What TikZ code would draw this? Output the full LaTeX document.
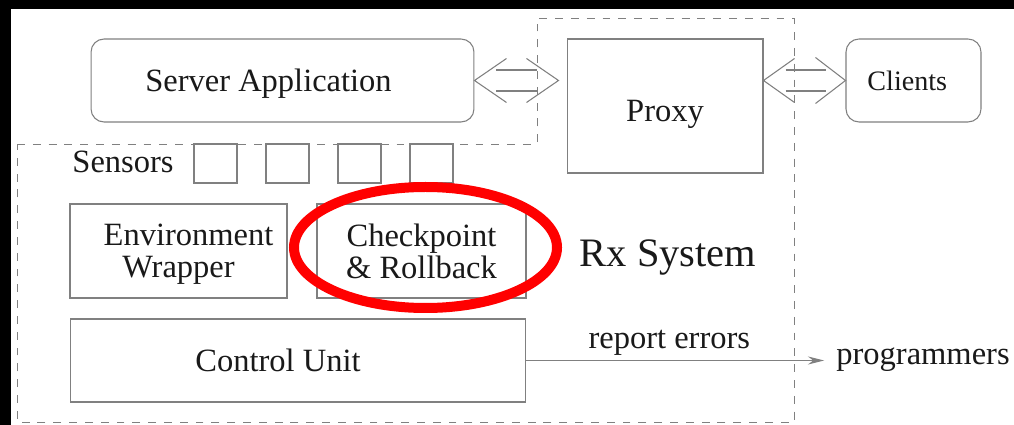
\documentclass[tikz,border=0pt]{standalone}
\usepackage{fontspec}
\setmainfont{Liberation Serif}
\usetikzlibrary{arrows.meta}

\begin{document}
\begin{tikzpicture}[x=0.02cm, y=-0.02cm,
    >={Stealth[length=0.32cm,width=0.16cm]},
    every node/.style={text=black!90, font=\fontsize{18.5}{18.2}\selectfont}]
% black frame on top and left
\fill[black] (0,0) rectangle (1014,425);
\fill[white] (11,9) rectangle (1014,425);
\useasboundingbox (0,0) rectangle (1014,425);

% outline of the Rx System
\draw[black!50, line width=0.5pt, dash pattern=on 4.5pt off 4.5pt]
    (17,144) -- (537,144) -- (537,18) -- (794,18) -- (794,422) -- (17,422) -- cycle;

\begin{scope}[every node/.append style={draw=black!50, line width=0.6pt, inner sep=0pt,
                                        text depth=0pt, align=center}]
    \node[rounded corners=0.26cm, minimum width=7.66cm, minimum height=1.66cm] (App) at (282.5,80.5) {Server Application\hspace*{0.56cm}};
    \node[minimum width=3.92cm, minimum height=2.68cm, text height=18.2pt] (Proxy) at (665,106) {Proxy};
    \node[rounded corners=0.26cm, minimum width=2.7cm, minimum height=1.66cm,
          font=\fontsize{16}{16}\selectfont] (Clients) at (913.5,80.5) {Clients\hspace*{0.25cm}};
    \node[minimum width=4.34cm, minimum height=1.88cm] (Env) at (178.5,251) {\hspace*{0.4cm}Environment\\Wrapper};
    \node[minimum width=4.18cm, minimum height=1.88cm] (CR) at (421.5,251) {Checkpoint\\\& Rollback};
    \node[minimum width=9.12cm, minimum height=1.66cm] (CU) at (298,360.5) {Control Unit\hspace*{0.8cm}};
    \foreach \i in {0,...,3}
        \node[minimum width=0.86cm, minimum height=0.78cm] (S\i) at (215.5+72*\i,163.5) {};
\end{scope}

\node[anchor=base] (Sensors) at (123,173) {Sensors};
\node[anchor=base, font=\fontsize{23}{23}\selectfont] (Rx) at (668,267) {Rx System};
\node[anchor=base west, inner sep=0.24cm] (Prog) at (824,365) {programmers};

% double arrows
\coordinate (a1) at (App.east);
\coordinate (a2) at ([xshift=-0.16cm]App.east -| Proxy.west);
\coordinate (b1) at (Proxy.east |- Clients.west);
\coordinate (b2) at (Clients.west);
\begin{scope}[black!50, line width=0.6pt]
    \draw ([shift={(32,-22)}]a1) -- (a1) -- ([shift={(32,22)}]a1);
    \draw ([shift={(-32,-22)}]a2) -- (a2) -- ([shift={(-32,22)}]a2);
    \draw ([shift={(22,-10.5)}]a1) -- ([shift={(-22,-10.5)}]a2);
    \draw ([shift={(22,10.5)}]a1) -- ([shift={(-22,10.5)}]a2);
    \draw ([shift={(31,-22)}]b1) -- (b1) -- ([shift={(31,22)}]b1);
    \draw ([shift={(-30,-23)}]b2) -- (b2) -- ([shift={(-30,23)}]b2);
    \draw ([shift={(22,-10.5)}]b1) -- ([shift={(-19,-10.5)}]b2);
    \draw ([shift={(22,10.5)}]b1) -- ([shift={(-19,10.5)}]b2);
\end{scope}

\draw[->, black!50, line width=0.6pt] (CU.east) -- node[pos=0.48, above, inner sep=2.5pt] {report errors} (CU.east -| Prog.west);

\draw[red, line width=0.2cm] (425.5,247.5) ellipse [x radius=131.5, y radius=60.5];
\end{tikzpicture}
\end{document}
